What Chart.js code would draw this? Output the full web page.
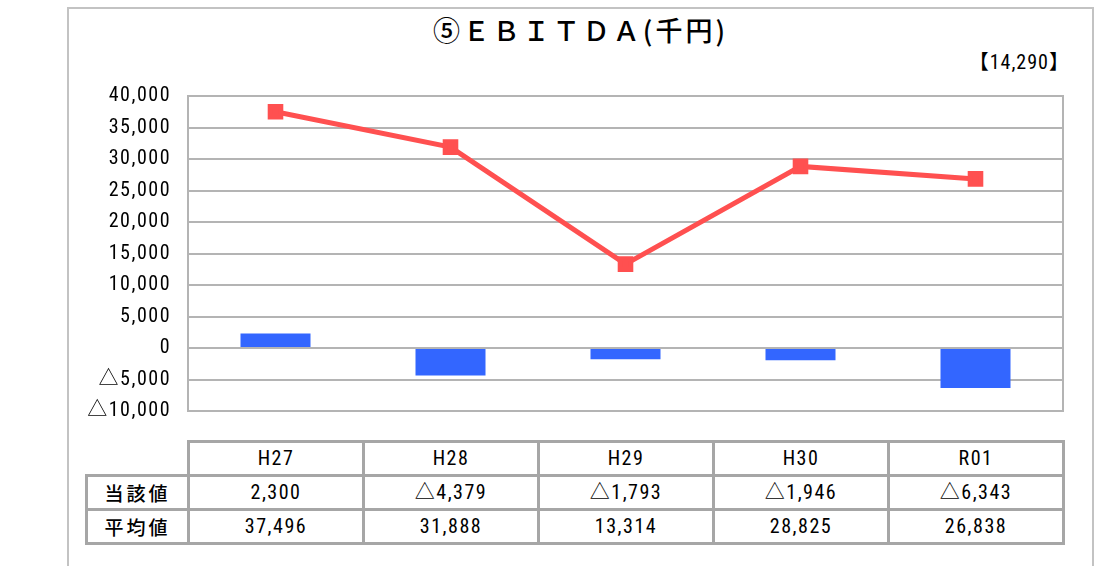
<!DOCTYPE html>
<html><head><meta charset="utf-8">
<script src="https://cdn.jsdelivr.net/npm/chart.js@4/dist/chart.umd.min.js"></script>
<style>
html,body{margin:0;padding:0;background:#fff;width:1115px;height:566px;overflow:hidden;font-family:"Roboto Condensed","Noto Sans CJK JP",sans-serif;}
#frame{position:absolute;left:67px;top:7px;width:1023px;height:640px;border:2px solid #c3c3c3;}
#title{position:absolute;left:67px;width:1027px;top:12px;text-align:center;font-size:27px;line-height:36px;color:#000;letter-spacing:3px;font-family:"Noto Sans CJK JP",sans-serif;font-weight:500;}
#sub{position:absolute;right:45px;top:49px;font-size:20px;line-height:26px;color:#000;letter-spacing:1px;}
#wrap{position:absolute;left:0;top:0;width:1115px;height:440px;}
table{position:absolute;left:85px;top:440px;border-collapse:collapse;font-size:20px;color:#000;}
td{border:3px solid #a6a6a6;text-align:center;height:31px;padding:0;line-height:31px;letter-spacing:1.5px;}
td.lab{width:99px;letter-spacing:3px;font-family:"Noto Sans CJK JP",sans-serif;font-size:19px;font-weight:500;}
td.v{width:172px;}
td.blank{border:none;border-right:3px solid #a6a6a6;border-bottom:3px solid #a6a6a6;}
</style></head>
<body>
<div id="frame"></div>
<div id="title">⑤ＥＢＩＴＤＡ(千円)</div>
<div id="sub">【14,290】</div>
<div id="wrap"><canvas id="c"></canvas></div>
<table id="tbl"></table>
<script>
const categories = ["H27","H28","H29","H30","R01"];
const currentValues = [2300, -4379, -1793, -1946, -6343];
const averageValues = [37496, 31888, 13314, 28825, 26838];
const rowLabels = ["当該値","平均値"];
const yMin = -10000, yMax = 40000, yStep = 5000;

function fmt(v){
  const s = Math.abs(v).toLocaleString("en-US");
  return v < 0 ? "△" + s : s;
}

// table
const tbl = document.getElementById("tbl");
let html = '<tr><td class="blank"></td>' + categories.map(c=>'<td class="v">'+c+'</td>').join('') + '</tr>';
html += '<tr><td class="lab">'+rowLabels[0]+'</td>' + currentValues.map(v=>'<td class="v">'+fmt(v)+'</td>').join('') + '</tr>';
html += '<tr><td class="lab">'+rowLabels[1]+'</td>' + averageValues.map(v=>'<td class="v">'+fmt(v)+'</td>').join('') + '</tr>';
tbl.innerHTML = html;

const borderPlugin = {
  id:'areaBorder',
  beforeDraw(chart){ chart.ctx.letterSpacing = '1.5px'; },
  beforeDatasetsDraw(chart){
    const {ctx, chartArea:a} = chart;
    ctx.save();
    ctx.strokeStyle = '#b4b4b4';
    ctx.lineWidth = 2;
    ctx.strokeRect(a.left, a.top, a.right-a.left, a.bottom-a.top);
    ctx.restore();
  }
};

new Chart(document.getElementById("c"), {
  data: {
    labels: categories,
    datasets: [
      {type:'line', label:'平均値', data: averageValues, borderColor:'#FF5050', backgroundColor:'#FF5050',
       borderWidth:5, pointStyle:'rect', pointRadius:7.5, pointHoverRadius:7.5, tension:0, order:0},
      {type:'bar', label:'当該値', data: currentValues, backgroundColor:'#3366FF', borderWidth:0,
       barPercentage:0.4, categoryPercentage:1.0, order:1}
    ]
  },
  options: {
    responsive:true, maintainAspectRatio:false, animation:false,
    layout:{padding:{left:0,right:52,top:96,bottom:11}},
    plugins:{legend:{display:false}, tooltip:{enabled:false}},
    scales:{
      x:{display:false, offset:true, grid:{display:false}},
      y:{min:yMin, max:yMax,
         afterFit(scale){ scale.width = 188; },
         ticks:{stepSize:yStep, padding:17, color:'#000', font:{family:'"Roboto Condensed", "Noto Sans CJK JP", sans-serif', size:20},
                callback:(v)=>fmt(v)},
         grid:{color:'#b4b4b4', lineWidth:2, drawTicks:false},
         border:{display:false}}
    }
  },
  plugins:[borderPlugin]
});
</script>
</body></html>
